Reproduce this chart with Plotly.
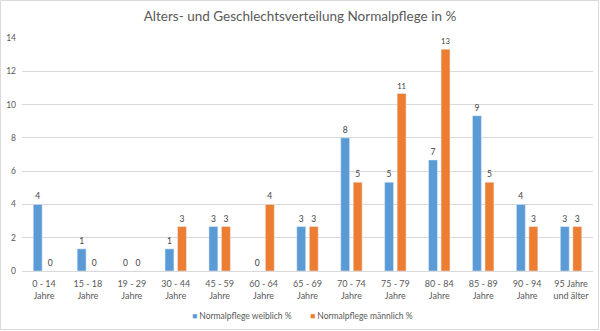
import plotly.graph_objects as go

categories = ["0 - 14<br>Jahre", "15 - 18<br>Jahre", "19 - 29<br>Jahre", "30 - 44<br>Jahre",
              "45 - 59<br>Jahre", "60 - 64<br>Jahre", "65 - 69<br>Jahre", "70 - 74<br>Jahre",
              "75 - 79<br>Jahre", "80 - 84<br>Jahre", "85 - 89<br>Jahre", "90 - 94<br>Jahre",
              "95 Jahre<br>und älter"]
weiblich = [4.0, 1.33, 0, 1.33, 2.67, 0, 2.67, 8.0, 5.33, 6.67, 9.33, 4.0, 2.67]
maennlich = [0, 0, 0, 2.67, 2.67, 4.0, 2.67, 5.33, 10.67, 13.33, 5.33, 2.67, 2.67]
y_ticks = [0, 2, 4, 6, 8, 10, 12, 14]
names = ["Normalpflege weiblich %", "Normalpflege männlich %"]
colors = ["#5B9BD5", "#ED7D31"]

FONT = "Lato, Carlito, Open Sans, sans-serif"
TXT = "#595959"

fig = go.Figure()
for vals, name, col in zip([weiblich, maennlich], names, colors):
    fig.add_trace(go.Bar(x=categories, y=vals, name=name, showlegend=False,
                         marker_color=col, texttemplate="%{y:.0f}", textposition="outside",
                         textfont=dict(size=8.5, color="#404040", family=FONT), cliponaxis=False))

L, R, T, B = 22, 7, 38, 60
pw, ph = 600 - L - R, 331 - T - B
legend_x = [190, 308]
annotations = []
for name, col, lx in zip(names, colors, legend_x):
    annotations.append(dict(
        text=f"<span style='color:{col}'>■</span> {name}", xref="paper", yref="paper",
        x=(lx - L) / pw, y=-(316 - 271) / ph, xanchor="left", yanchor="middle",
        showarrow=False, font=dict(size=8.5, color=TXT, family=FONT)))

fig.update_layout(
    width=600, height=331,
    margin=dict(l=L, r=R, t=T, b=B, autoexpand=False),
    paper_bgcolor="white", plot_bgcolor="white",
    font=dict(family=FONT, color=TXT),
    title=dict(text="Alters- und Geschlechtsverteilung Normalpflege in %", x=0.5, xanchor="center",
               y=1 - 16 / 331, yanchor="middle", font=dict(size=13.5, color=TXT, family=FONT)),
    barmode="group", bargap=0.43, bargroupgap=0.29,
    showlegend=False,
    annotations=annotations,
    xaxis=dict(tickfont=dict(size=9, color=TXT, family=FONT), showline=True, linecolor="#D9D9D9",
               linewidth=1, ticks="", showgrid=False, automargin=False, ticklabelstandoff=4),
    yaxis=dict(range=[0, 14], tickvals=y_ticks, tickfont=dict(size=8.5, color=TXT, family=FONT),
               showgrid=True, gridcolor="#D9D9D9", gridwidth=1, zeroline=False, showline=False,
               ticks="", ticklabelstandoff=5, automargin=False),
    shapes=[dict(type="rect", xref="paper", yref="paper",
                 x0=-(L - 0.5) / pw, x1=1 + (R - 1.5) / pw, y0=-(B - 1.5) / ph, y1=1 + (T - 0.5) / ph,
                 line=dict(color="#D9D9D9", width=1), fillcolor="rgba(0,0,0,0)", layer="below")],
)
fig.write_html("out.html")
